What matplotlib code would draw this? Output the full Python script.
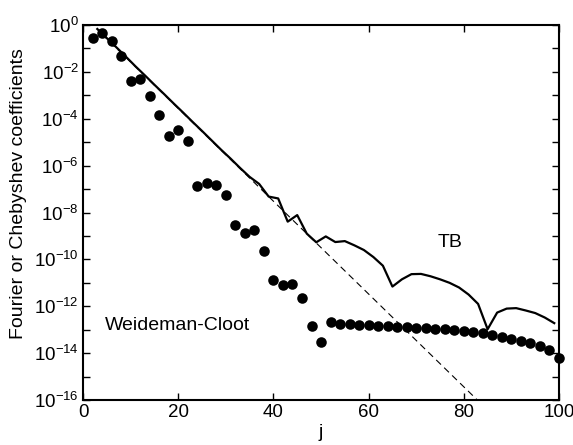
import numpy as np
import matplotlib
matplotlib.use("Agg")
import matplotlib.pyplot as plt
from matplotlib.ticker import FixedLocator, FuncFormatter

plt.rcParams["font.family"] = ["Liberation Sans", "DejaVu Sans"]
plt.rcParams["mathtext.fontset"] = "custom"
plt.rcParams["mathtext.rm"] = "Liberation Sans"

# Weideman-Cloot coefficients (even j), log10 of magnitude
wc_j = list(range(2, 101, 2))
wc_log = [-0.54, -0.33, -0.67, -1.32, -2.39, -2.29, -3.03, -3.84, -4.75, -4.48,
          -4.96, -6.86, -6.73, -6.83, -7.25, -8.53, -8.89, -8.75, -9.64, -10.88,
          -11.10, -11.06, -11.65, -12.84, -13.51, -12.66, -12.76, -12.77, -12.79, -12.81,
          -12.83, -12.84, -12.87, -12.89, -12.91, -12.94, -12.95, -12.98, -13.01, -13.04,
          -13.10, -13.15, -13.23, -13.30, -13.40, -13.49, -13.58, -13.69, -13.87, -14.19]

# TB coefficients (odd j), log10 of magnitude
tb_j = list(range(3, 100, 2))
tb_log = [-0.17, -0.56, -0.95, -1.35, -1.76, -2.15, -2.55, -2.94, -3.34, -3.73,
          -4.13, -4.52, -4.92, -5.32, -5.70, -6.10, -6.48, -6.78, -7.32, -7.40,
          -8.39, -8.11, -8.90, -9.27, -9.02, -9.26, -9.22, -9.40, -9.60, -9.90,
          -10.27, -11.16, -10.85, -10.63, -10.62, -10.72, -10.85, -11.00, -11.20, -11.50,
          -11.90, -12.98, -12.27, -12.10, -12.08, -12.18, -12.29, -12.48, -12.72]

# asymptotic rate (dashed)
asym_j = [4, 84]
asym_log = [-0.39, -16.23]

fig = plt.figure(figsize=(5.73, 4.45), dpi=100)
ax = fig.add_axes([0.1449, 0.1011, 0.8307, 0.8427])

ax.plot(asym_j, 10.0 ** np.array(asym_log), color="black", lw=0.8,
        linestyle=(0, (6, 4)))
ax.plot(tb_j, 10.0 ** np.array(tb_log), color="black", lw=1.6)
ax.plot(wc_j, 10.0 ** np.array(wc_log), "o", color="black", markersize=7.6,
        markeredgewidth=0, clip_on=False)

ax.set_yscale("log")
ax.set_xlim(0, 100)
ax.set_ylim(1e-16, 1e0)
ax.set_xticks([0, 20, 40, 60, 80, 100])
ax.yaxis.set_major_locator(FixedLocator([10.0 ** k for k in range(-16, 1)]))
ax.yaxis.set_minor_locator(FixedLocator([]))


def fmt(v, pos):
    e = int(round(np.log10(v)))
    if e % 2:
        return ""
    return r"$\mathdefault{10^{%d}}$" % e


ax.yaxis.set_major_formatter(FuncFormatter(fmt))
ax.tick_params(direction="in", top=True, right=True, length=5, width=1,
               labelsize=13.5, pad=3)
for s in ax.spines.values():
    s.set_linewidth(1.5)

ax.set_xlabel("j", fontsize=14, labelpad=2)
ax.set_ylabel("Fourier or Chebyshev coefficients", fontsize=14)
ax.yaxis.set_label_coords(-0.118, 0.55)

ax.text(74.4, 10 ** -9.3, "TB", fontsize=14, va="center", ha="left")
ax.text(4.6, 10 ** -12.84, "Weideman-Cloot", fontsize=14, va="center", ha="left")

fig.savefig("out.png", dpi=100)
